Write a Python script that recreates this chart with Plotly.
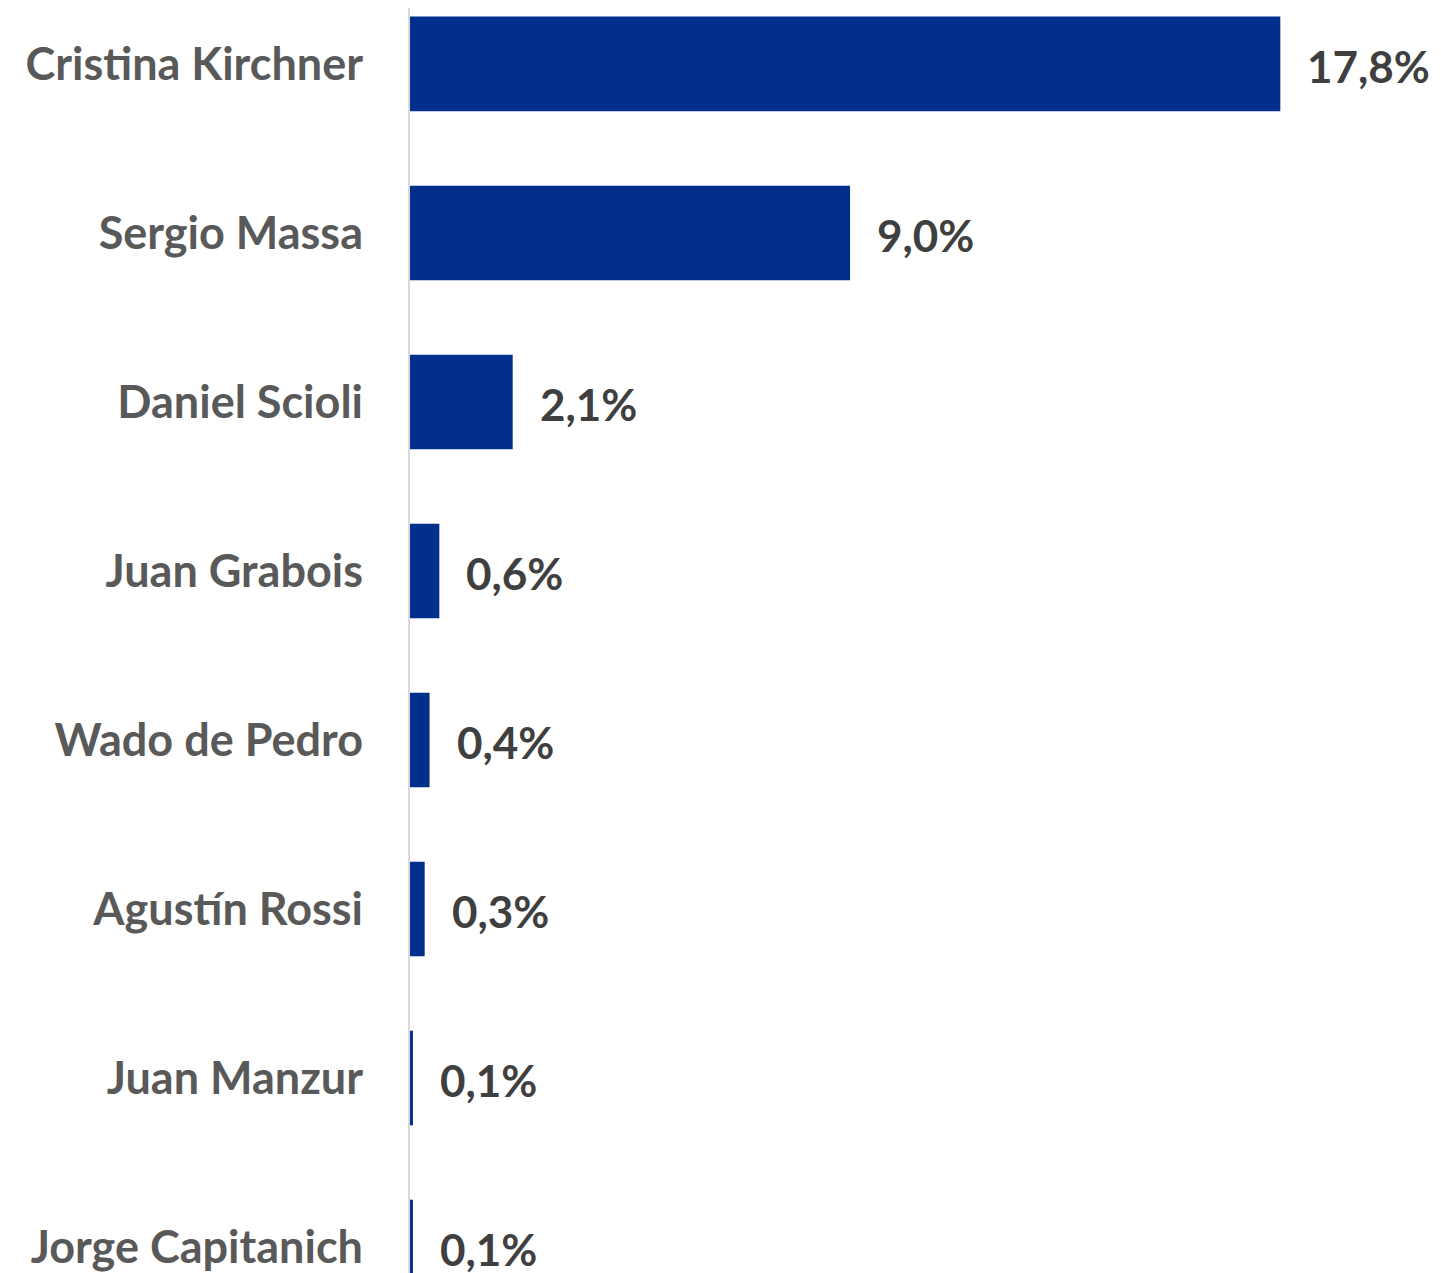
import plotly.graph_objects as go

candidates = ["Cristina Kirchner", "Sergio Massa", "Daniel Scioli", "Juan Grabois",
              "Wado de Pedro", "Agustín Rossi", "Juan Manzur", "Jorge Capitanich"]
values = [17.8, 9.0, 2.1, 0.6, 0.4, 0.3, 0.06, 0.06]
value_labels = ["17,8%", "9,0%", "2,1%", "0,6%", "0,4%", "0,3%", "0,1%", "0,1%"]

pos = list(range(len(candidates)))
BAR = "#022F8C"
FONT = "Lato"

fig = go.Figure()
fig.add_trace(go.Bar(
    x=values, y=pos, orientation="h", width=0.56,
    marker=dict(color=BAR, line=dict(width=0)),
    hoverinfo="skip",
))
for p, v, t in zip(pos, values, value_labels):
    fig.add_annotation(x=v, y=p, text=t, showarrow=False, xanchor="left",
                       xshift=25, yshift=-2,
                       font=dict(family=FONT, size=44, color="#3F3F3F", weight="bold"))

fig.update_layout(
    width=1441, height=1273,
    margin=dict(l=402, r=0, t=0, b=0),
    paper_bgcolor="white", plot_bgcolor="white",
    showlegend=False,
    font=dict(family=FONT),
    xaxis=dict(range=[0, 21.25], visible=False, showgrid=False, zeroline=False),
    yaxis=dict(range=[7.201, -0.331], tickmode="array", tickvals=pos, ticktext=candidates,
               showgrid=False, zeroline=False, showline=True, linecolor="#D9D9D9", linewidth=2,
               ticks="", ticklabelstandoff=36,
               tickfont=dict(family=FONT, size=45, color="#595959", weight="bold")),
)
fig.write_html("out.html")
